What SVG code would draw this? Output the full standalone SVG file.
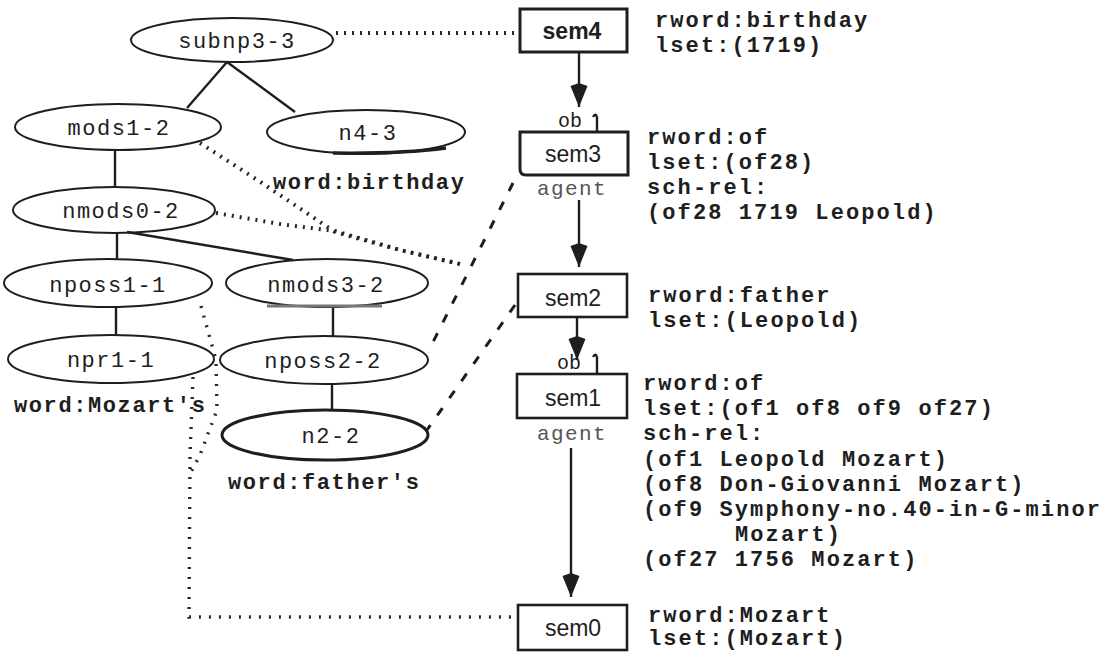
<svg xmlns="http://www.w3.org/2000/svg" width="1113" height="652" viewBox="0 0 1113 652">
  <style>
    .bg { fill: #ffffff; }
    .ell { fill: none; stroke: #1e1e1e; stroke-width: 2; }
    .box { fill: #ffffff; stroke: #1e1e1e; stroke-width: 2.6; }
    .tree { fill: none; stroke: #1e1e1e; stroke-width: 2.4; }
    .arr { fill: none; stroke: #1e1e1e; stroke-width: 2.4; }
    .dot { fill: none; stroke: #262626; stroke-width: 4; stroke-dasharray: 2 6; }
    .dot2 { fill: none; stroke: #2a2a2a; stroke-width: 3.4; stroke-dasharray: 2 8; }
    .dash { fill: none; stroke: #1e1e1e; stroke-width: 3; stroke-dasharray: 9 12; }
    .lbl { font-family: "Liberation Mono", "DejaVu Sans Mono", monospace; font-size: 22px; letter-spacing: 1.5px; fill: #1e1e1e; text-anchor: middle; }
    .word { font-family: "Liberation Mono", "DejaVu Sans Mono", monospace; font-size: 22px; letter-spacing: 1.6px; fill: #1e1e1e; font-weight: bold; }
    .sem { font-family: "Liberation Sans", Arial, sans-serif; font-size: 23px; fill: #1e1e1e; text-anchor: middle; }
    .attr { font-family: "Liberation Mono", "DejaVu Sans Mono", monospace; font-size: 22px; letter-spacing: 2.1px; fill: #1e1e1e; font-weight: bold; }
    .role { font-family: "Liberation Mono", "DejaVu Sans Mono", monospace; font-size: 21px; letter-spacing: 1.4px; fill: #555555; text-anchor: middle; }
    .ob { font-family: "Liberation Mono", "DejaVu Sans Mono", monospace; font-size: 20px; fill: #1e1e1e; }
  </style>
  <defs>
    <!-- filled dart head, tip at the path end -->
    <marker id="head" viewBox="0 0 24 18" refX="24" refY="9" markerWidth="24" markerHeight="18" markerUnits="userSpaceOnUse" orient="auto">
      <path d="M0,9 L3,0.5 L24,9 L3,17.5 Z" fill="#1e1e1e"/>
    </marker>
  </defs>
  <rect class="bg" x="0" y="0" width="1113" height="652"/>

  <!-- syntax tree edges, correspondence links and semantic arrows -->
  <g id="connectors">
    <!-- tree -->
    <path class="tree" d="M227,62 L187,108"/>
    <path class="tree" d="M227,62 L295,112"/>
    <path class="tree" d="M115,150 L115,187"/>
    <path class="tree" d="M117,233 L117,259"/>
    <path class="tree" d="M127,232 L293,260"/>
    <path class="tree" d="M116,307 L116,335"/>
    <path class="tree" d="M333,307 L333,336"/>
    <path class="tree" d="M332,384 L332,411"/>

    <!-- syntax to semantics links -->
    <path class="dot" d="M336,33 L518,33"/>
    <path class="dot" d="M200,143 L262,183 L335,232 L400,250 L460,264"/>
    <path class="dot" d="M216,213 L280,224 L335,231 L400,250 L460,264"/>
    <path class="dash" d="M513,183 L428,352"/>
    <path class="dash" d="M515,305 L427,430"/>
    <path class="dot2" d="M201,306 L216,360 L217,410 L200,455 L191,472"/>
    <path class="dot2" d="M193,377 L190,455 L189,617 L516,617"/>

    <!-- semantic arrows -->
    <path class="arr" d="M579,52 L579,107" marker-end="url(#head)"/>
    <path class="arr" d="M579,200 L579,267" marker-end="url(#head)"/>
    <path class="arr" d="M577,317 L577,360" marker-end="url(#head)"/>
    <path class="arr" d="M571,448 L571,597" marker-end="url(#head)"/>
    <path class="arr" d="M593,117 Q596,112 597,118 L597,132"/>
    <path class="arr" d="M593,357 Q596,352 597,358 L597,374"/>
  </g>

  <!-- syntax nodes -->
  <g id="subnp3-3">
    <ellipse class="ell" cx="232" cy="40" rx="101" ry="22"/>
    <text class="lbl" x="237" y="48">subnp3-3</text>
  </g>
  <g id="mods1-2">
    <ellipse class="ell" cx="118" cy="127" rx="103" ry="23"/>
    <text class="lbl" x="119" y="135">mods1-2</text>
  </g>
  <g id="n4-3">
    <ellipse class="ell" cx="366" cy="132" rx="99" ry="22"/>
    <path d="M333,153 Q400,154 446,148" fill="none" stroke="#1e1e1e" stroke-width="3.5"/>
    <text class="lbl" x="368" y="140">n4-3</text>
    <text class="word" x="273" y="189">word:birthday</text>
  </g>
  <g id="nmods0-2">
    <ellipse class="ell" cx="114" cy="210" rx="101" ry="23"/>
    <text class="lbl" x="121" y="218">nmods0-2</text>
  </g>
  <g id="nposs1-1">
    <ellipse class="ell" cx="108" cy="283" rx="104" ry="24"/>
    <text class="lbl" x="108" y="292">nposs1-1</text>
  </g>
  <g id="nmods3-2">
    <ellipse class="ell" cx="327" cy="283" rx="101" ry="24"/>
    <path d="M267,306 L382,306" stroke="#777777" stroke-width="3"/>
    <text class="lbl" x="326" y="292">nmods3-2</text>
  </g>
  <g id="npr1-1">
    <ellipse class="ell" cx="111" cy="359" rx="103" ry="24"/>
    <text class="lbl" x="111" y="367">npr1-1</text>
    <text class="word" x="14" y="412">word:Mozart's</text>
  </g>
  <g id="nposs2-2">
    <ellipse class="ell" cx="324" cy="360" rx="104" ry="24"/>
    <text class="lbl" x="323" y="368">nposs2-2</text>
  </g>
  <g id="n2-2">
    <ellipse class="ell" cx="325" cy="435" rx="103" ry="25" style="stroke-width:3"/>
    <text class="lbl" x="331" y="443">n2-2</text>
    <text class="word" x="228" y="489">word:father's</text>
  </g>

  <!-- semantic nodes -->
  <g id="sem4">
    <rect class="box" x="520" y="9" width="107" height="43" style="stroke-width:3"/>
    <text class="sem" x="572" y="39" font-weight="bold">sem4</text>
    <text class="attr" x="655" y="27">rword:birthday</text>
    <text class="attr" x="655" y="52">lset:(1719)</text>
  </g>
  <g id="sem3">
    <path class="box" d="M520,132 L628,132 L628,175 L526,175 Q520,175 520,169 Z" style="stroke-width:3"/>
    <text class="sem" x="573" y="162">sem3</text>
    <text class="ob" x="558" y="127">ob</text>
    <text class="role" x="572" y="195">agent</text>
    <text class="attr" x="647" y="144">rword:of</text>
    <text class="attr" x="647" y="169">lset:(of28)</text>
    <text class="attr" x="647" y="194">sch-rel:</text>
    <text class="attr" x="647" y="219">(of28 1719 Leopold)</text>
  </g>
  <g id="sem2">
    <rect class="box" x="518" y="274" width="109" height="43"/>
    <text class="sem" x="573" y="306">sem2</text>
    <text class="attr" x="648" y="302">rword:father</text>
    <text class="attr" x="648" y="327">lset:(Leopold)</text>
  </g>
  <g id="sem1">
    <rect class="box" x="517" y="374" width="110" height="44"/>
    <text class="sem" x="573" y="406">sem1</text>
    <text class="ob" x="557" y="369">ob</text>
    <text class="role" x="572" y="440">agent</text>
    <text class="attr" x="643" y="390">rword:of</text>
    <text class="attr" x="643" y="415">lset:(of1 of8 of9 of27)</text>
    <text class="attr" x="643" y="440">sch-rel:</text>
    <text class="attr" x="643" y="466">(of1 Leopold Mozart)</text>
    <text class="attr" x="643" y="491">(of8 Don-Giovanni Mozart)</text>
    <text class="attr" x="643" y="516">(of9 Symphony-no.40-in-G-minor</text>
    <text class="attr" x="735" y="541">Mozart)</text>
    <text class="attr" x="643" y="566">(of27 1756 Mozart)</text>
  </g>
  <g id="sem0">
    <rect class="box" x="518" y="605" width="109" height="45"/>
    <text class="sem" x="573" y="636">sem0</text>
    <text class="attr" x="648" y="622">rword:Mozart</text>
    <text class="attr" x="648" y="645">lset:(Mozart)</text>
  </g>
</svg>
